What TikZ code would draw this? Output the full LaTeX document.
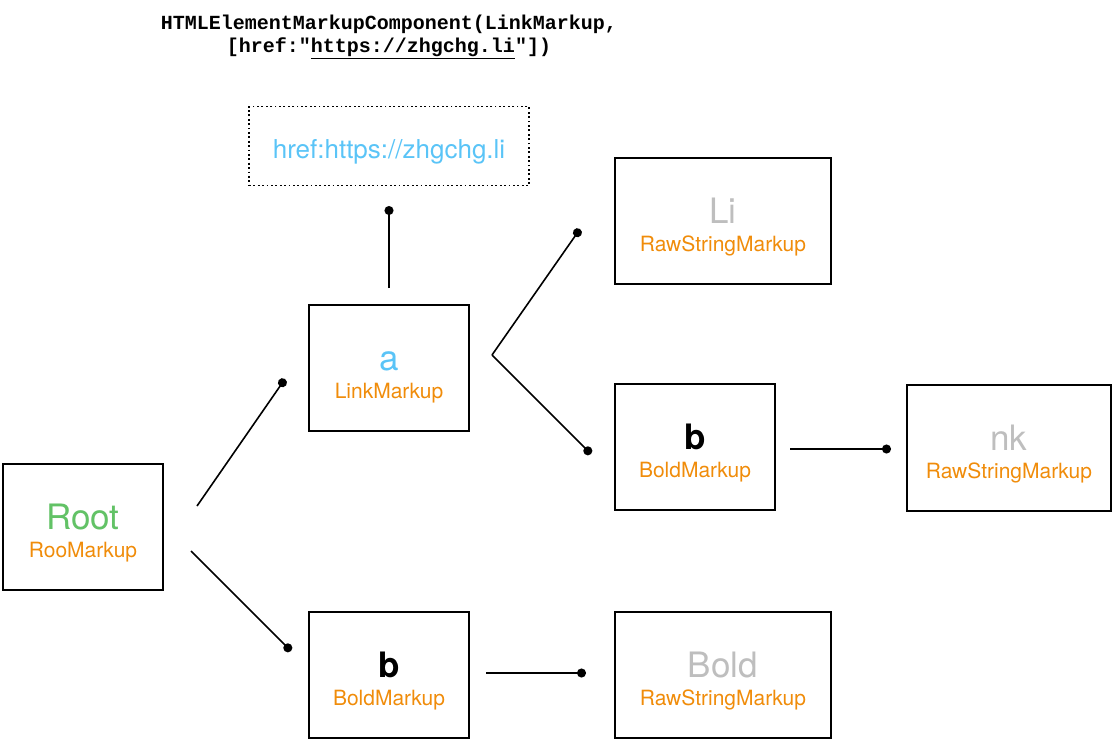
\documentclass[tikz,border=0pt]{standalone}
\usepackage{fontspec}
\setmainfont{TeX Gyre Heros}
\newfontfamily\codefont{Liberation Mono}
\usetikzlibrary{arrows.meta,positioning}
\definecolor{rootgreen}{RGB}{98,194,102}
\definecolor{linkblue}{RGB}{90,196,247}
\definecolor{markorange}{RGB}{240,140,10}
\definecolor{rawgray}{RGB}{190,190,190}
\newcommand{\mlabel}[3]{\rule{0pt}{38pt}{\fontsize{35}{35}\selectfont\color{#1}#2}\\[11pt]{\fontsize{21}{21}\selectfont\color{markorange}#3}}
\tikzset{
  markupbox/.style={draw, line width=1.8pt, minimum width=160, minimum height=126, align=center, inner sep=0pt},
  attrbox/.style={draw, line width=1.8pt, dash pattern=on 1.8pt off 2.6pt, minimum width=280, minimum height=79, inner sep=0pt},
  link/.style={line width=1.6pt, -{Circle[length=9pt]}}
}
\begin{document}
\begin{tikzpicture}[x=1pt,y=-1pt]
\useasboundingbox (0,0) rectangle (1114,740);

\node[align=center, font=\codefont\bfseries\fontsize{20}{23}\selectfont] (call) at (389,37) {HTMLElementMarkupComponent(LinkMarkup,\\
{[}href:"\underline{https://zhgchg.li}"])};

% tree
\node[markupbox] (root) at (83,527) {\mlabel{rootgreen}{Root}{RooMarkup}};
\node[markupbox] (link) at (389,368) {\mlabel{linkblue}{a}{LinkMarkup}};
\node[markupbox] (boldB) at (389,675) {\mlabel{black}{\bfseries b}{BoldMarkup}};
\node[markupbox, minimum width=216] (rawLi) at (723,221) {\mlabel{rawgray}{Li}{RawStringMarkup}};
\node[markupbox] (boldA) at (695,447) {\mlabel{black}{\bfseries b}{BoldMarkup}};
\node[markupbox, minimum width=204] (rawNk) at (1009,448) {\mlabel{rawgray}{nk}{RawStringMarkup}};
\node[markupbox, minimum width=216] (rawBold) at (723,675) {\mlabel{rawgray}{Bold}{RawStringMarkup}};

\node[attrbox] (href) at (389,146) {\rule{0pt}{30pt}\fontsize{26}{26}\selectfont\color{linkblue}href:https://zhgchg.li};

% connector ends
\coordinate (rootOutA) at (197,506);
\coordinate (linkIn) at (285,379);
\coordinate (rootOutB) at (191,551);
\coordinate (boldBIn) at (291,651);
\coordinate (linkUp) at (389,288);
\coordinate (hrefIn) at (389,206);
\coordinate (linkOut) at (492,355);
\coordinate (rawLiIn) at (580,229);
\coordinate (boldAIn) at (591,454);
\coordinate (boldAOut) at (790,449);
\coordinate (rawNkIn) at (891,449);
\coordinate (boldBOut) at (486,673);
\coordinate (rawBoldIn) at (586,673);

\draw[link] (rootOutA) -- (linkIn);
\draw[link] (rootOutB) -- (boldBIn);
\draw[link] (linkUp) -- (hrefIn);
\draw[link] (linkOut) -- (rawLiIn);
\draw[link] (linkOut) -- (boldAIn);
\draw[link] (boldAOut) -- (rawNkIn);
\draw[link] (boldBOut) -- (rawBoldIn);
\end{tikzpicture}
\end{document}
